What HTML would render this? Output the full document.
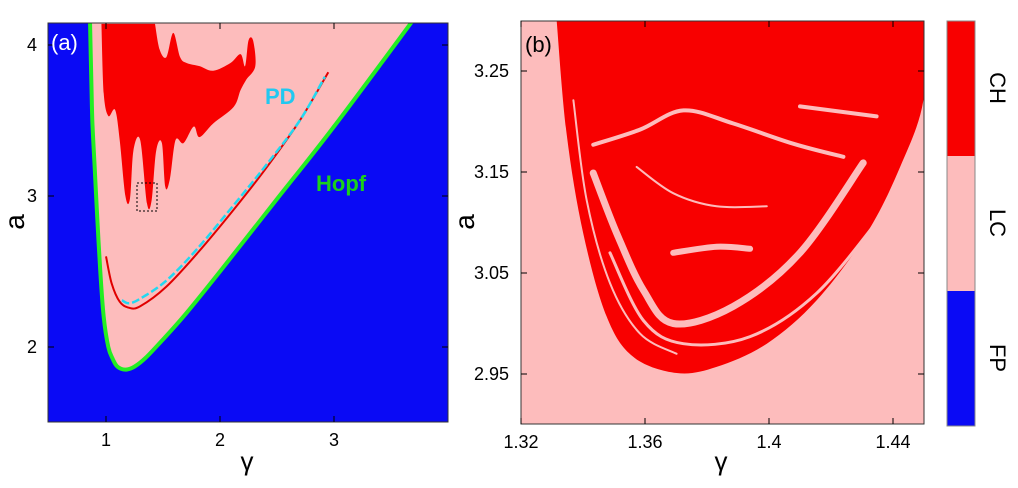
<!DOCTYPE html>
<html><head><meta charset="utf-8"><style>
html,body{margin:0;padding:0;background:#fff;width:1018px;height:488px;overflow:hidden}
svg{display:block;font-family:"Liberation Sans",sans-serif}
</style></head><body>
<svg id="fig" width="1018" height="488" viewBox="0 0 1018 488"></svg>
<script>
// Panel (a) data
const hopfG=[0.86,0.87,0.88,0.90,0.92,0.95,0.98,1.02,1.06,1.10,1.17,1.25,1.35,1.5,1.7,2.0,2.5,3.0,3.68];
const hopfA=[4.15,3.8,3.5,3.2,2.9,2.5,2.2,2.0,1.92,1.87,1.85,1.87,1.93,2.05,2.22,2.5,2.98,3.46,4.15];
const pdG=[1.14,1.2,1.3,1.53,1.8,2.11,2.4,2.7,2.92];
const pdA=[2.31,2.29,2.32,2.44,2.65,2.93,3.2,3.5,3.79];
const redLineG=[1.0,1.05,1.12,1.2,1.3,1.53,1.8,2.11,2.4,2.7,2.95];
const redLineA=[2.6,2.42,2.3,2.26,2.27,2.4,2.62,2.9,3.18,3.5,3.82];
const chaosG=[0.96,0.98,1.02,1.08,1.12,1.17,1.21,1.24,1.30,1.36,1.40,1.44,1.49,1.52,1.56,1.61,1.68,1.77,1.82,1.94,2.12,2.18,2.23,2.31,2.29,2.25,2.22,2.18,2.09,1.94,1.82,1.71,1.65,1.59,1.53,1.47,1.43];
const chaosA=[4.14,3.68,3.53,3.57,3.37,3.0,2.98,3.30,3.37,2.95,2.97,3.30,3.35,3.06,3.11,3.37,3.35,3.46,3.39,3.48,3.59,3.70,3.77,3.86,4.03,4.03,3.86,3.94,3.88,3.83,3.86,3.88,3.92,4.08,3.92,3.97,4.14];
const aXTicks=[1,2,3], aYTicks=[2,3,4];
// Panel (b) data
const outerG=[1.3315,1.3347,1.3401,1.3476,1.3562,1.3702,1.3831,1.3993,1.4154,1.4315,1.4423,1.4498,1.45];
const outerA=[3.30,3.188,3.089,3.007,2.967,2.951,2.957,2.980,3.023,3.089,3.155,3.221,3.30];
const streaks=[
 {g:[1.3433,1.3509,1.3595,1.3691,1.3885,1.4100,1.4304],a:[3.149,3.089,3.033,3.000,3.017,3.070,3.159],w:7},
 {g:[1.3487,1.3595,1.3724,1.3939,1.4154,1.4369],a:[3.070,3.003,2.980,2.987,3.030,3.109],w:3},
 {g:[1.3691,1.3831,1.3939],a:[3.070,3.076,3.074],w:6},
 {g:[1.3433,1.3584,1.3724,1.3885,1.4078,1.4240],a:[3.177,3.192,3.211,3.198,3.178,3.165],w:4},
 {g:[1.4100,1.4347],a:[3.215,3.205],w:4},
 {g:[1.3573,1.3691,1.3831,1.3993],a:[3.155,3.129,3.116,3.116],w:2},
 {g:[1.3369,1.3412,1.3487,1.3584,1.3702],a:[3.221,3.122,3.040,2.990,2.970],w:2}
];
const bXTicks=[1.32,1.36,1.4,1.44], bYTicks=[2.95,3.05,3.15,3.25];
const cbLabels=["CH","LC","FP"];

const NS="http://www.w3.org/2000/svg", svg=document.getElementById('fig');
function mk(t,at,parent){const e=document.createElementNS(NS,t);for(const k in at)e.setAttribute(k,at[k]);(parent||svg).appendChild(e);return e;}
const ax=g=>106+(g-1)*114, ay=a=>45+(4-a)*151;
const bx=g=>521+(g-1.32)*3100, by=a=>71+(3.25-a)*1010;
function pts(G,A,sx,sy){return G.map((g,i)=>sx(g).toFixed(1)+','+sy(A[i]).toFixed(1)).join(' ');}
// smooth path via Catmull-Rom
function smooth(G,A,sx,sy,close){const P=G.map((g,i)=>[sx(g),sy(A[i])]);let d='M'+P[0][0]+','+P[0][1];
 for(let i=0;i<P.length-1;i++){const p0=P[Math.max(0,i-1)],p1=P[i],p2=P[i+1],p3=P[Math.min(P.length-1,i+2)];
  d+=' C'+(p1[0]+(p2[0]-p0[0])/6).toFixed(1)+','+(p1[1]+(p2[1]-p0[1])/6).toFixed(1)+' '+(p2[0]-(p3[0]-p1[0])/6).toFixed(1)+','+(p2[1]-(p3[1]-p1[1])/6).toFixed(1)+' '+p2[0].toFixed(1)+','+p2[1].toFixed(1);}
 return d+(close?' Z':'');}

mk('defs',{}).innerHTML='<clipPath id="ca"><rect x="48" y="23" width="400" height="399"/></clipPath><clipPath id="cb"><rect x="521" y="21" width="403" height="403"/></clipPath>';
let e=mk('rect',{x:48,y:23,width:400,height:399,fill:'#0a0af5'});

const ga=mk('g',{'clip-path':'url(#ca)'});
e=mk('path',{d:smooth(hopfG,hopfA,ax,ay,true),fill:'#fdbcbc'},ga);

e=mk('path',{d:smooth(chaosG,chaosA,ax,ay,true),fill:'#f80000'},ga);

e=mk('path',{d:smooth(redLineG,redLineA,ax,ay,false),fill:'none',stroke:'#e00000','stroke-width':2},ga);

e=mk('path',{d:smooth(pdG,pdA,ax,ay,false),fill:'none',stroke:'#22d8f0','stroke-width':2.5,'stroke-dasharray':'8 3'},ga);

e=mk('path',{d:smooth(hopfG,hopfA,ax,ay,false),fill:'none',stroke:'#22ee22','stroke-width':4},ga);

e=mk('rect',{x:137,y:183,width:20,height:28,fill:'none',stroke:'#000','stroke-width':1,'stroke-dasharray':'2 2'});

e=mk('rect',{x:48,y:23,width:400,height:399,fill:'none',stroke:'#333','stroke-width':1});

aXTicks.forEach(t=>{const x=ax(t);
 mk('line',{x1:x,y1:422,x2:x,y2:416,stroke:'#000'});mk('line',{x1:x,y1:23,x2:x,y2:29,stroke:'#000'});
 const l=mk('text',{x:x,y:446,'font-size':18,'text-anchor':'middle'});l.textContent=t;
 });
aYTicks.forEach(t=>{const y=ay(t);
 mk('line',{x1:48,y1:y,x2:54,y2:y,stroke:'#000'});mk('line',{x1:448,y1:y,x2:442,y2:y,stroke:'#000'});
 const l=mk('text',{x:37,y:y+6,'font-size':18,'text-anchor':'end'});l.textContent=t;
 });
e=mk('text',{x:51,y:50,'font-size':22,fill:'#fff'});e.textContent='(a)';

e=mk('text',{x:265,y:104,'font-size':22,'font-weight':'bold',fill:'#22c8f0'});e.textContent='PD';

e=mk('text',{x:316,y:191,'font-size':22,'font-weight':'bold',fill:'#1bd01b'});e.textContent='Hopf';

e=mk('text',{x:247,y:470,'font-size':26,'text-anchor':'middle'});e.textContent='γ';

e=mk('text',{x:0,y:0,'font-size':28,'text-anchor':'middle',transform:'translate(24,222) rotate(-90)'});e.textContent='a';


e=mk('rect',{x:521,y:21,width:403,height:403,fill:'#fdbcbc'});

const gb=mk('g',{'clip-path':'url(#cb)'});
e=mk('path',{d:smooth(outerG,outerA,bx,by,true),fill:'#f80000'},gb);

streaks.forEach(s=>{const p=mk('path',{d:smooth(s.g,s.a,bx,by,false),fill:'none',stroke:'#fdbcbc','stroke-width':s.w,'stroke-linecap':'round'},gb);
 });
e=mk('rect',{x:521,y:21,width:403,height:403,fill:'none',stroke:'#333','stroke-width':1});

bXTicks.forEach(t=>{const x=bx(t);
 mk('line',{x1:x,y1:424,x2:x,y2:418,stroke:'#000'});mk('line',{x1:x,y1:21,x2:x,y2:27,stroke:'#000'});
 const l=mk('text',{x:x,y:448,'font-size':18,'text-anchor':'middle'});l.textContent=t;
 });
bYTicks.forEach(t=>{const y=by(t);
 mk('line',{x1:521,y1:y,x2:527,y2:y,stroke:'#000'});mk('line',{x1:924,y1:y,x2:918,y2:y,stroke:'#000'});
 const l=mk('text',{x:509,y:y+6,'font-size':18,'text-anchor':'end'});l.textContent=t.toFixed(2);
 });
e=mk('text',{x:525,y:52,'font-size':22,fill:'#000'});e.textContent='(b)';

e=mk('text',{x:721,y:470,'font-size':26,'text-anchor':'middle'});e.textContent='γ';

e=mk('text',{x:0,y:0,'font-size':28,'text-anchor':'middle',transform:'translate(474,222) rotate(-90)'});e.textContent='a';


const cbCols=['#f80000','#fdbcbc','#0a0af5'];
cbLabels.forEach((lab,i)=>{
 const r=mk('rect',{x:947,y:21+i*135,width:28,height:135,fill:cbCols[i]});
 
 const t=mk('text',{x:0,y:0,'font-size':22,'text-anchor':'middle',transform:'translate(990,'+(88+i*135)+') rotate(90)'});t.textContent=lab;
 
});
e=mk('rect',{x:947,y:21,width:28,height:405,fill:'none',stroke:'#888','stroke-width':1});

</script>
</body></html>
